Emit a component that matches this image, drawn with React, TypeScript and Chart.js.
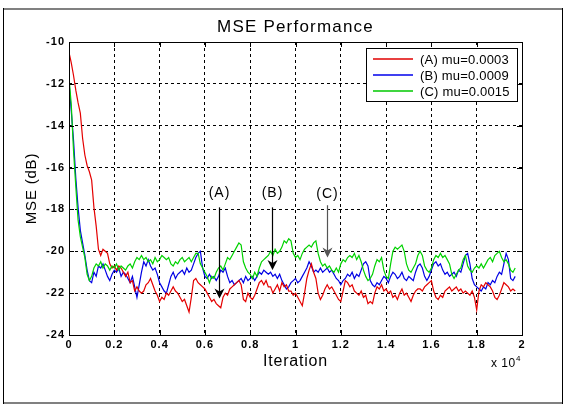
import React, { useEffect, useRef } from 'react';
import { Chart, registerables } from 'chart.js';

Chart.register(...registerables);

// Iteration spacing of the samples below (x = index * STEP)
const STEP = 100;

// (A) mu=0.0003  — MSE in dB, one value per 100 iterations (0 .. 19700)
const mseA: number[] = [
  -10.5, -11.0, -11.6, -12.3, -12.9, -13.4, -14.6, -15.4, -15.9, -16.2,
  -16.6, -17.9, -18.8, -19.9, -20.2, -19.9, -20.0, -20.1, -20.6, -20.8,
  -20.7, -20.9, -20.7, -20.8, -21.0, -21.2, -21.0, -21.5, -21.4, -21.9,
  -21.7, -21.9, -22.0, -21.9, -21.6, -21.5, -21.3, -21.6, -21.9, -22.1,
  -22.4, -22.2, -22.3, -22.0, -22.1, -21.9, -21.7, -21.9, -22.0, -22.2,
  -22.4, -22.3, -22.6, -22.9, -22.2, -21.4, -21.3, -21.5, -21.6, -21.7,
  -21.8, -22.0, -22.2, -22.4, -22.3, -22.5, -22.6, -22.7, -22.2, -22.0,
  -22.1, -21.8, -21.7, -21.6, -21.5, -21.4, -21.6, -22.3, -22.4, -22.0,
  -22.2, -22.3, -22.1, -21.8, -21.5, -21.4, -21.6, -21.4, -21.7, -21.7,
  -22.0, -21.8, -21.6, -21.9, -21.5, -21.7, -21.6, -21.9, -21.9, -22.1,
  -22.0, -22.2, -22.4, -22.6, -22.0, -21.3, -20.9, -20.6, -21.0, -21.3,
  -22.0, -22.3, -22.1, -21.8, -21.6, -21.8, -21.7, -21.9, -22.1, -22.3,
  -22.4, -21.9, -21.4, -21.5, -21.7, -21.6, -21.9, -22.0, -22.1, -21.9,
  -22.2, -22.1, -22.5, -22.4, -22.5, -22.0, -21.7, -21.8, -21.6, -21.9,
  -21.8, -22.0, -21.9, -22.2, -22.1, -22.3, -22.0, -21.8, -22.1, -22.0,
  -22.2, -22.4, -22.1, -21.9, -21.8, -21.8, -21.9, -21.7, -21.6, -21.5,
  -21.4, -21.9, -22.2, -22.3, -22.1, -22.2, -21.9, -21.8, -21.7, -21.9,
  -21.8, -21.7, -21.9, -21.8, -22.0, -21.9, -22.0, -22.1, -21.9, -22.2,
  -22.8, -21.9, -21.6, -21.7, -21.5, -21.6, -21.7, -21.9, -22.2, -22.3,
  -22.1, -21.8, -21.5, -21.6, -21.7, -21.9, -21.8, -21.9,
];

// (B) mu=0.0009
const mseB: number[] = [
  -11.9, -13.3, -14.7, -16.5, -17.9, -19.0, -19.6, -20.2, -20.9, -21.4,
  -21.5, -21.0, -21.2, -20.7, -20.8, -20.6, -20.9, -21.2, -21.4, -21.1,
  -20.9, -21.0, -20.8, -21.2, -21.0, -21.1, -21.3, -21.5, -21.2, -21.7,
  -22.2, -21.6, -21.0, -20.5, -20.7, -20.4, -20.7, -20.9, -20.8, -21.1,
  -21.5, -21.7, -21.9, -22.0, -21.6, -21.2, -21.0, -21.3, -21.1, -21.0,
  -20.9, -21.1, -20.8, -21.0, -20.9, -20.6, -20.3, -20.1, -20.0, -20.8,
  -21.2, -21.3, -21.1, -21.3, -21.2, -21.4, -21.2, -20.9, -21.0, -20.8,
  -21.2, -21.5, -21.4, -21.6, -21.5, -21.4, -21.3, -21.5, -21.2, -21.4,
  -21.3, -21.2, -21.4, -21.2, -21.0, -21.1, -20.9, -21.0, -21.1, -21.0,
  -21.2, -21.1, -21.3, -21.1, -21.4, -21.6, -21.8, -21.7, -21.5, -21.4,
  -21.3, -21.5, -21.4, -21.2, -21.0, -20.8, -20.5, -20.7, -21.0, -20.9,
  -21.0, -20.8, -21.0, -20.9, -20.8, -21.0, -20.9, -21.1, -21.3, -21.4,
  -21.6, -21.4, -21.3, -21.1, -21.2, -21.0, -21.3, -21.1, -21.2, -20.9,
  -20.6, -20.5, -20.7, -21.4, -21.6, -21.7, -21.5, -21.6, -21.4, -21.2,
  -21.3, -21.5, -21.2, -21.0, -21.1, -21.3, -21.2, -21.0, -21.3, -21.4,
  -21.2, -21.3, -21.4, -21.0, -20.7, -20.6, -20.8, -21.2, -21.4, -21.2,
  -20.9, -20.6, -20.5, -20.7, -20.6, -20.9, -21.1, -21.0, -21.2, -21.1,
  -21.0, -21.2, -20.9, -21.0, -20.6, -20.2, -20.1, -20.6, -21.3, -21.6,
  -21.7, -21.8, -21.9, -21.7, -21.8, -21.5, -21.6, -21.4, -21.5, -21.2,
  -21.0, -21.1, -20.6, -20.1, -20.4, -21.3, -21.4, -21.2,
];

// (C) mu=0.0015
const mseC: number[] = [
  -11.7, -13.0, -15.2, -16.9, -18.5, -19.3, -19.8, -20.3, -21.1, -21.4,
  -21.2, -20.8, -20.6, -20.7, -20.5, -20.8, -20.6, -20.7, -20.9, -20.7,
  -20.8, -20.6, -20.9, -20.7, -20.8, -20.9, -20.7, -20.6, -20.8, -20.5,
  -20.3, -20.4, -20.2, -20.4, -20.3, -20.5, -20.4, -20.6, -20.3, -20.5,
  -20.4, -20.2, -20.3, -20.4, -20.3, -20.6, -20.7, -20.5, -20.6, -20.4,
  -20.3, -20.5, -20.4, -20.3, -20.5, -20.3, -20.1, -20.1, -20.6, -20.8,
  -21.0, -21.2, -21.5, -21.2, -21.3, -21.0, -20.8, -20.7, -20.9, -20.6,
  -20.3, -20.4, -20.2, -20.0, -19.8, -19.6, -19.7, -20.5, -20.8, -21.0,
  -21.1, -21.3, -21.0, -21.2, -20.8, -20.5, -20.4, -20.3, -20.2, -20.0,
  -20.2, -19.9, -20.1, -20.0, -19.8, -19.5, -19.6, -19.4, -19.5, -20.1,
  -20.3, -20.2, -20.4, -20.1, -19.9, -19.8, -19.7, -19.8, -19.6, -19.5,
  -20.1, -20.5, -20.7, -20.6, -20.8, -20.7, -20.9, -21.0, -20.8, -21.0,
  -20.6, -20.4, -20.5, -20.3, -20.2, -20.3, -20.1, -20.4, -20.2, -20.5,
  -20.9, -21.2, -21.4, -21.3, -21.1, -20.7, -20.4, -20.5, -20.3, -20.9,
  -21.2, -21.3, -20.6, -20.0, -19.8, -19.9, -19.8, -19.7, -20.0, -20.6,
  -20.9, -21.0, -20.8, -20.6, -20.2, -20.0, -20.2, -20.7, -20.9, -21.0,
  -20.8, -20.4, -20.2, -20.3, -20.1, -20.3, -20.2, -20.4, -20.6, -21.1,
  -21.3, -21.1, -20.9, -20.8, -20.4, -20.2, -20.7, -20.9, -21.0, -20.8,
  -20.7, -20.8, -20.6, -20.8, -20.6, -20.4, -20.3, -20.5, -20.2, -20.1,
  -20.0, -20.3, -20.5, -20.4, -20.6, -20.9, -21.0, -20.8,
];

const seriesLabels = ['(A) mu=0.0003', '(B) mu=0.0009', '(C) mu=0.0015'];
const seriesColors = ['rgb(228,0,0)', 'rgb(0,0,228)', 'rgb(0,210,0)'];
const legendColors = ['rgb(225,0,0)', 'rgb(0,0,235)', 'rgb(0,200,0)'];

const xTickValues = [0, 2000, 4000, 6000, 8000, 10000, 12000, 14000, 16000, 18000, 20000];
const xTickLabels = ['0', '0.2', '0.4', '0.6', '0.8', '1', '1.2', '1.4', '1.6', '1.8', '2'];
const yTickValues = [-24, -22, -20, -18, -16, -14, -12, -10];

// Arrow annotations (data coordinates)
const annotLabels = ['(A)', '(B)', '(C)'];
const annotX = [6620, 8980, 11400];
const annotTop = [-17.9, -17.9, -17.8];
const annotTip = [-22.25, -20.9, -20.3];
const annotLabelY = [-17.2, -17.2, -17.25];
const annotColors = ['#000', '#000', '#555'];

const FONT = '"Liberation Sans", Arial, Helvetica, sans-serif';

const toPoints = (arr: number[]) => arr.map((v, i) => ({ x: i * STEP, y: v }));

const decorPlugin = {
  id: 'decor',
  beforeDraw(chart: any) {
    const ctx = chart.ctx;
    ctx.fillStyle = '#fff';
    ctx.fillRect(0, 0, chart.width, chart.height);
    ctx.letterSpacing = '1px';
  },
  afterDraw(chart: any) {
    const ctx = chart.ctx;
    const { left, right, top, bottom } = chart.chartArea;
    const xs = chart.scales.x;
    const ys = chart.scales.y;
    ctx.save();
    ctx.setLineDash([]);
    ctx.letterSpacing = '0px';

    // figure frame
    ctx.fillStyle = '#808080';
    ctx.fillRect(3, 8, 560, 2);
    ctx.fillRect(3, 402, 560, 2);
    ctx.fillStyle = '#000';
    ctx.fillRect(3, 8, 1, 396);
    ctx.fillRect(562, 8, 1, 396);

    // inner tick marks
    ctx.strokeStyle = '#000';
    ctx.lineWidth = 1;
    ctx.beginPath();
    xTickValues.forEach((v) => {
      const px = Math.round(xs.getPixelForValue(v)) + 0.5;
      ctx.moveTo(px, bottom);
      ctx.lineTo(px, bottom - 5);
      ctx.moveTo(px, top);
      ctx.lineTo(px, top + 5);
    });
    yTickValues.forEach((v) => {
      const py = Math.round(ys.getPixelForValue(v)) + 0.5;
      ctx.moveTo(left, py);
      ctx.lineTo(left + 5, py);
      ctx.moveTo(right, py);
      ctx.lineTo(right - 5, py);
    });
    ctx.stroke();

    // plot box
    ctx.strokeRect(left + 0.5, top + 0.5, right - left, bottom - top);

    // legend
    const lw = 151, lh = 53;
    const lx = right - 156, ly = top + 6;
    ctx.fillStyle = '#fff';
    ctx.fillRect(lx, ly, lw, lh);
    ctx.strokeStyle = '#000';
    ctx.lineWidth = 1;
    ctx.strokeRect(lx + 0.5, ly + 0.5, lw, lh);
    ctx.font = `13px ${FONT}`;
    ctx.letterSpacing = '0.2px';
    ctx.textAlign = 'left';
    ctx.textBaseline = 'middle';
    seriesLabels.forEach((lab, i) => {
      const yy = Math.round(ly + 11 + 16 * i);
      ctx.beginPath();
      ctx.strokeStyle = legendColors[i];
      ctx.lineWidth = 1.4;
      ctx.moveTo(lx + 7, yy);
      ctx.lineTo(lx + 47, yy);
      ctx.stroke();
      ctx.fillStyle = '#000';
      ctx.fillText(lab, lx + 54, yy + 1);
    });

    // arrows
    annotLabels.forEach((lab, i) => {
      const px = Math.round(xs.getPixelForValue(annotX[i])) + 0.5;
      const yTop = ys.getPixelForValue(annotTop[i]);
      const yTip = ys.getPixelForValue(annotTip[i]);
      ctx.strokeStyle = annotColors[i];
      ctx.fillStyle = annotColors[i];
      ctx.lineWidth = 1.2;
      ctx.beginPath();
      ctx.moveTo(px, yTop);
      ctx.lineTo(px, yTip - 5);
      ctx.stroke();
      ctx.beginPath();
      ctx.moveTo(px, yTip);
      ctx.lineTo(px - 5, yTip - 10);
      ctx.lineTo(px, yTip - 7);
      ctx.lineTo(px + 5, yTip - 10);
      ctx.closePath();
      ctx.fill();
      ctx.fillStyle = '#000';
      ctx.font = `14px ${FONT}`;
      ctx.letterSpacing = '1px';
      ctx.textAlign = 'center';
      ctx.textBaseline = 'middle';
      ctx.fillText(lab, px, ys.getPixelForValue(annotLabelY[i]));
    });

    // titles
    ctx.fillStyle = '#000';
    ctx.textAlign = 'center';
    ctx.textBaseline = 'middle';
    ctx.font = `17px ${FONT}`;
    ctx.letterSpacing = '1.2px';
    ctx.fillText('MSE Performance', (left + right) / 2, 27);

    ctx.font = `16px ${FONT}`;
    ctx.letterSpacing = '0.8px';
    ctx.fillText('Iteration', (left + right) / 2, 362);

    ctx.save();
    ctx.translate(32, (top + bottom) / 2);
    ctx.rotate(-Math.PI / 2);
    ctx.font = `15px ${FONT}`;
    ctx.letterSpacing = '0.8px';
    ctx.fillText('MSE (dB)', 0, 0);
    ctx.restore();

    // exponent
    ctx.textAlign = 'left';
    ctx.textBaseline = 'alphabetic';
    ctx.font = `12px ${FONT}`;
    ctx.letterSpacing = '0.5px';
    ctx.fillText('x 10', right - 31, 367);
    ctx.font = `8px ${FONT}`;
    ctx.fillText('4', right - 6, 361);

    ctx.restore();
  },
};

export default function App() {
  const canvasRef = useRef<HTMLCanvasElement | null>(null);

  useEffect(() => {
    document.body.style.margin = '0';
    const canvas = canvasRef.current;
    if (!canvas) return;
    const tickFont = { family: FONT, size: 11, weight: 'bold' as const };
    const chart = new Chart(canvas, {
      type: 'line',
      data: {
        datasets: [
          {
            label: seriesLabels[0],
            data: toPoints(mseA),
            borderColor: seriesColors[0],
            borderWidth: 1.2,
            pointRadius: 0,
            tension: 0,
            order: 1,
          },
          {
            label: seriesLabels[1],
            data: toPoints(mseB),
            borderColor: seriesColors[1],
            borderWidth: 1.2,
            pointRadius: 0,
            tension: 0,
            order: 2,
          },
          {
            label: seriesLabels[2],
            data: toPoints(mseC),
            borderColor: seriesColors[2],
            borderWidth: 1.2,
            pointRadius: 0,
            tension: 0,
            order: 0,
          },
        ],
      },
      options: {
        animation: false,
        responsive: false,
        maintainAspectRatio: false,
        devicePixelRatio: 1,
        layout: { padding: { left: 0, right: 60, top: 42, bottom: 0 } },
        plugins: {
          legend: { display: false },
          title: { display: false },
          tooltip: { enabled: false },
        },
        scales: {
          x: {
            type: 'linear',
            min: 0,
            max: 20000,
            afterBuildTicks: (s: any) => {
              s.ticks = xTickValues.map((v) => ({ value: v }));
            },
            afterFit: (s: any) => {
              s.height = 75;
            },
            ticks: {
              autoSkip: false,
              maxRotation: 0,
              padding: 3,
              color: '#000',
              font: tickFont,
              callback: (_v: any, i: number) => xTickLabels[i],
            },
            grid: { color: '#000', lineWidth: 1, drawTicks: false },
            border: { display: false, dash: [3, 3] },
          },
          y: {
            type: 'linear',
            min: -24,
            max: -10,
            afterBuildTicks: (s: any) => {
              s.ticks = yTickValues.map((v) => ({ value: v }));
            },
            afterFit: (s: any) => {
              s.width = 69;
            },
            ticks: {
              autoSkip: false,
              padding: 4,
              color: '#000',
              font: tickFont,
              callback: (v: any) => String(v),
            },
            grid: { color: '#000', lineWidth: 1, drawTicks: false },
            border: { display: false, dash: [3, 3] },
          },
        },
      },
      plugins: [decorPlugin],
    });
    return () => chart.destroy();
  }, []);

  return (
    <canvas
      ref={canvasRef}
      width={582}
      height={410}
      style={{ display: 'block', width: '582px', height: '410px' }}
    />
  );
}
